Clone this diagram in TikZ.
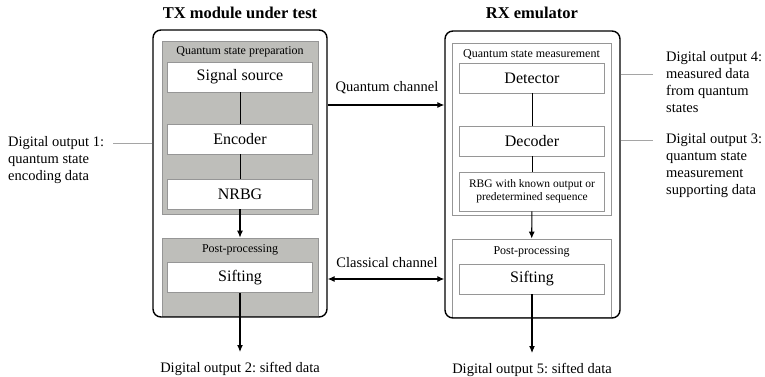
\documentclass[tikz,border=0pt]{standalone}
\usepackage{fontspec}
\setmainfont{Liberation Serif}
\usetikzlibrary{arrows.meta}
\frenchspacing

\definecolor{panel}{RGB}{190,190,186}
\definecolor{boxline}{RGB}{150,150,150}
\definecolor{leadgray}{RGB}{165,165,165}

\begin{document}
\begin{tikzpicture}[x=1pt, y=-1pt,
    outerbox/.style={draw, line width=1.4pt, rounded corners=8pt, minimum height=287pt, inner sep=0pt},
    panel/.style={draw=boxline, line width=0.8pt, minimum width=156pt, inner sep=0pt},
    unit/.style={draw=boxline, fill=white, line width=0.8pt, minimum width=145pt, minimum height=30pt,
                 inner sep=0pt, font=\fontsize{16}{19}\selectfont},
    tag/.style={inner sep=0pt, font=\fontsize{12}{14}\selectfont},
    note/.style={inner sep=0pt, align=left, font=\fontsize{14.5}{17}\selectfont},
    title/.style={inner sep=0pt, font=\fontsize{16.5}{19}\selectfont\bfseries},
    link/.style={line width=1pt},
    flow/.style={line width=1.1pt, -{Latex[length=7pt,width=6pt]}},
    biflow/.style={line width=1.1pt, {Latex[length=7pt,width=6pt]}-{Latex[length=7pt,width=6pt]}},
    lead/.style={draw=leadgray, line width=0.9pt}]

    \useasboundingbox (0,0) rectangle (765,377);

    \node[title] (txtitle) at (240,13) {TX module under test};
    \node[title] (rxtitle) at (532,13) {RX emulator};

    \node[panel, fill=panel, minimum height=173pt] (txprep) at (240,127.5) {};
    \node[tag] (preplabel) at (240,52) {Quantum state preparation};
    \node[unit] (src) at (240,77) {Signal source};
    \node[unit] (enc) at (240,139) {Encoder};
    \node[unit] (nrbg) at (240,194) {NRBG};

    \node[panel, fill=panel, minimum height=78.5pt] (txpost) at (240,277.25) {};
    \node[tag] (txpostlabel) at (240,250) {Post-processing};
    \node[unit] (txsift) at (240,277.5) {Sifting};

    \node[panel, fill=white, minimum width=159pt, minimum height=172pt] (rxmeas) at (531.5,129) {};
    \node[tag] (measlabel) at (531.5,55) {Quantum state measurement};
    \node[unit] (det) at (532,78) {Detector};
    \node[unit] (dec) at (532,141) {Decoder};
    \node[unit, minimum height=39pt, align=center, font=\fontsize{11.5}{13}\selectfont] (rbg) at (532,191.5)
        {RBG with known output or\\predetermined sequence};

    \node[panel, fill=white, minimum width=159pt, minimum height=78.5pt] (rxpost) at (531.5,278.25) {};
    \node[tag] (rxpostlabel) at (531.5,252) {Post-processing};
    \node[unit] (rxsift) at (532,279) {Sifting};

    \node[outerbox, minimum width=174pt] (txouter) at (240,173.5) {};
    \node[outerbox, minimum width=175pt] (rxouter) at (532.5,174.5) {};

    \draw[link] (src) -- (enc);
    \draw[link] (enc) -- (nrbg);
    \draw[flow] (nrbg) -- (txpost);
    \draw[link] (det) -- (dec);
    \draw[link] (dec) -- (rbg);
    \draw[flow] (rbg) -- (rxpost);

    \coordinate (qch) at (0,105);
    \draw[flow] (txouter.east |- qch) -- (rxouter.west |- qch);
    \node[note] (qlabel) at (387,88) {Quantum channel};
    \draw[biflow] (txouter.east |- rxsift) -- (rxouter.west |- rxsift);
    \node[note] (clabel) at (387,263) {Classical channel};

    \coordinate (txend) at (240,352);
    \coordinate (rxend) at (532,353);
    \draw[flow] (txsift) -- (txend);
    \draw[flow] (rxsift) -- (rxend);
    \node[note] (out2) at (240,368.5) {Digital output 2: sifted data};
    \node[note] (out5) at (532,369.5) {Digital output 5: sifted data};

    \node[note, anchor=west] (out1) at (8,160) {Digital output 1:\\quantum state\\encoding data};
    \coordinate (lead1) at (113,143);
    \draw[lead] (lead1) -- (txouter.west |- lead1);

    \node[note, anchor=west] (out4) at (666,82.5) {Digital output 4:\\measured data\\from quantum\\states};
    \coordinate (lead4) at (653,74);
    \draw[lead] (rxouter.east |- lead4) -- (lead4);

    \node[note, anchor=west] (out3) at (666,165.5) {Digital output 3:\\quantum state\\measurement\\supporting data};
    \coordinate (lead3) at (653,140);
    \draw[lead] (rxouter.east |- lead3) -- (lead3);

\end{tikzpicture}
\end{document}
